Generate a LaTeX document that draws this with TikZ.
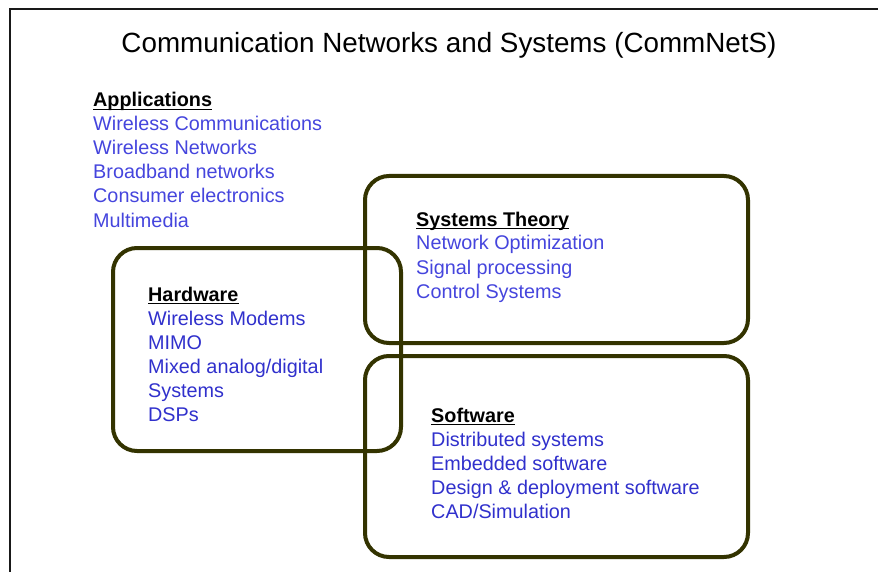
\documentclass[tikz,border=0pt]{standalone}
\usepackage{fontspec}
\setmainfont{Liberation Sans}
\definecolor{boxc}{HTML}{333300}
\definecolor{itemA}{HTML}{4545DD}
\definecolor{itemB}{HTML}{3030CC}
\begin{document}
\begin{tikzpicture}[x=1pt,y=-1pt,
  item/.style={anchor=base west, inner sep=0pt, font=\fontsize{19.8}{24}\selectfont, text=itemA},
  itemb/.style={item, text=itemB},
  head/.style={anchor=base west, inner sep=0pt, font=\fontsize{19.8}{24}\selectfont\bfseries, text=black},
  ulin/.style={line width=1.6pt, black},
  area/.style={draw=boxc, line width=4pt, rounded corners=24pt},
  frame/.style={draw=black!90, line width=2pt}]
\useasboundingbox (0,0) rectangle (878,572);
\draw[frame] (9.5,572) -- (9.5,9.5) -- (878,9.5);
% boxes
\draw[area] (365,176) rectangle (748,343);
\draw[area] (365,356) rectangle (748,557);
\draw[area] (113,248) rectangle (401,451);
% title
\node[anchor=base, inner sep=0pt, font=\fontsize{27.8}{32}\selectfont] (title) at (449,53) {Communication Networks and Systems (CommNetS)};
% Applications
\node[head] (apph) at (93,107) {Applications};
\draw[ulin] ([yshift=-2.5pt]apph.base west) -- ([yshift=-2.5pt]apph.base east);
\foreach \t [count=\i] in {Wireless Communications, Wireless Networks, Broadband networks, Consumer electronics, Multimedia}
  \node[item] (app\i) at (93,107+24*\i) {\t};
% Systems Theory
\node[head] (sysh) at (416,226) {Systems Theory};
\draw[ulin] ([yshift=-2.5pt]sysh.base west) -- ([yshift=-2.5pt]sysh.base east);
\foreach \t [count=\i] in {Network Optimization, Signal processing, Control Systems}
  \node[item] (sys\i) at (416,226+24*\i) {\t};
% Hardware
\node[head] (hwh) at (148,301) {Hardware};
\draw[ulin] ([yshift=-2.5pt]hwh.base west) -- ([yshift=-2.5pt]hwh.base east);
\foreach \t [count=\i] in {Wireless Modems, MIMO, Mixed analog/digital, Systems, DSPs}
  \node[itemb] (hw\i) at (148,301+24*\i) {\t};
% Software
\node[head] (swh) at (431,422) {Software};
\draw[ulin] ([yshift=-2.5pt]swh.base west) -- ([yshift=-2.5pt]swh.base east);
\foreach \t [count=\i] in {Distributed systems, Embedded software, Design \& deployment software, CAD/Simulation}
  \node[itemb] (sw\i) at (431,422+24*\i) {\t};
\end{tikzpicture}
\end{document}
